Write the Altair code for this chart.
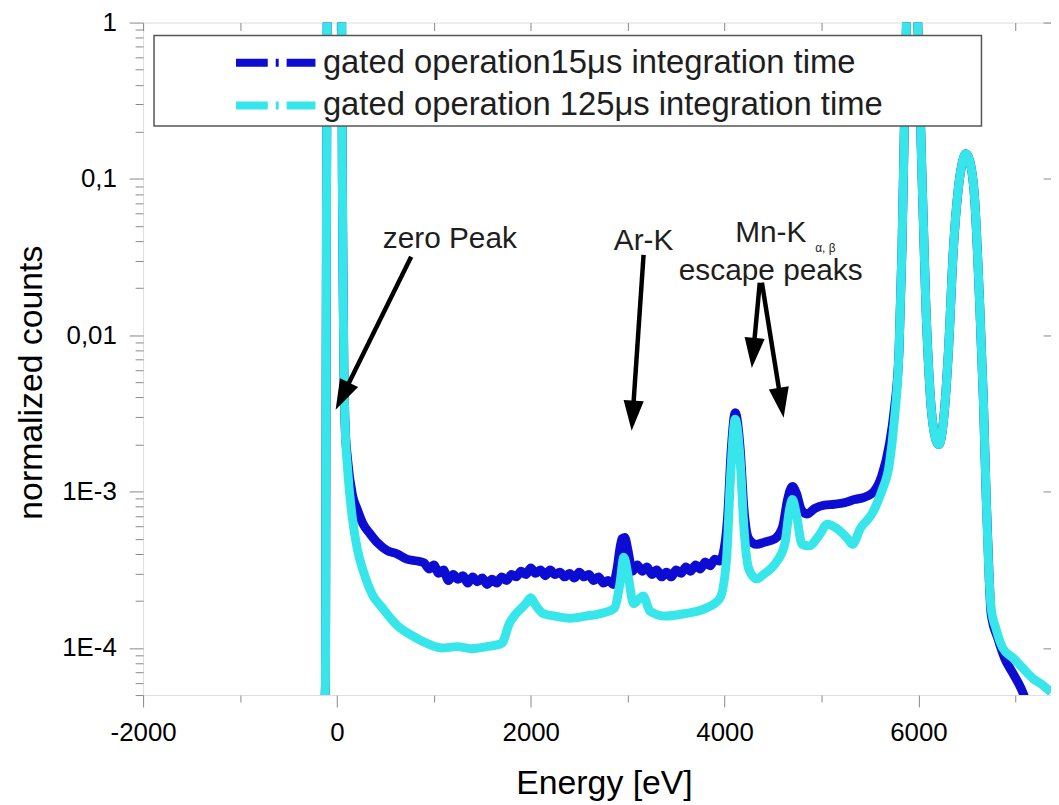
import math
import altair as alt
import pandas as pd

FONT = "Liberation Sans"
SERIES = ["gated operation15\u03bcs integration time", "gated operation 125\u03bcs integration time"]
COLORS = ["#0c0cd2", "#36e6ea"]

# ---- series values (energy in eV, normalized counts) ----
zero_e = [-140, -118, -114, -108, -100, -60, -20, 20, 48, 56, 64, 72, 85]
zero_v = [3.0e-5, 6e-5, 1e-3, 0.05, 1.5, 12, 20, 10, 1.5, 0.1, 0.02, 6e-3, 2.6e-3]

peaks_e = [5800, 5830, 5850, 5870, 5900, 5950, 5990, 6030, 6075, 6125, 6180, 6210,
           6260, 6310, 6360, 6410, 6450, 6490, 6530, 6580, 6630, 6670, 6700, 6730]
peaks_v = [8e-3, 0.035, 0.15, 0.65, 3.0, 4.0, 1.2, 0.15, 0.0167, 3.9e-3, 2.15e-3, 2.0e-3,
           2.9e-3, 8e-3, 0.035, 0.085, 0.125, 0.145, 0.13, 0.075, 0.017, 3.9e-3, 9e-4, 2.8e-4]

dark_mid_e = [110, 160, 210, 270, 340, 420, 520, 620, 720, 830, 900, 950, 1000, 1050,
              1100, 1150, 1200, 1250, 1300, 1350, 1400, 1450, 1500, 1550, 1600, 1650,
              1700, 1750, 1800, 1850, 1900, 1950, 2000, 2050, 2100, 2150, 2200, 2250,
              2300, 2350, 2400, 2450, 2500, 2550, 2600, 2650, 2700, 2750, 2800, 2850,
              2890, 2940, 2970, 3000, 3050, 3100, 3150, 3200, 3250, 3300, 3350, 3400,
              3450, 3500, 3550, 3600, 3650, 3700, 3750, 3800, 3850, 3900, 3950, 3985,
              4030, 4070, 4110, 4160, 4200, 4250, 4330, 4410, 4520, 4600, 4650, 4700,
              4740, 4790, 4850, 4930, 5030, 5130, 5240, 5340, 5440, 5540, 5620, 5700,
              5750]
dark_mid_v = [1.6e-3, 9.5e-4, 7.7e-4, 6.2e-4, 5.4e-4, 4.7e-4, 4.2e-4, 4.0e-4, 3.7e-4,
              3.6e-4, 3.5e-4, 3.2e-4, 3.4e-4, 3.0e-4, 3.15e-4, 2.7e-4, 2.95e-4, 2.75e-4,
              2.9e-4, 2.6e-4, 2.85e-4, 2.65e-4, 2.8e-4, 2.55e-4, 2.75e-4, 2.6e-4,
              2.85e-4, 2.7e-4, 2.95e-4, 2.85e-4, 3.1e-4, 2.95e-4, 3.25e-4, 3.0e-4,
              3.15e-4, 2.9e-4, 3.15e-4, 2.95e-4, 3.05e-4, 2.85e-4, 3.0e-4, 2.8e-4,
              3.05e-4, 2.85e-4, 2.95e-4, 2.7e-4, 2.85e-4, 2.6e-4, 2.7e-4, 2.55e-4,
              3.2e-4, 5.0e-4, 5.1e-4, 4.3e-4, 3.1e-4, 3.4e-4, 3.1e-4, 3.3e-4, 2.95e-4,
              3.15e-4, 2.85e-4, 3.05e-4, 2.85e-4, 3.15e-4, 3.0e-4, 3.3e-4, 3.1e-4,
              3.4e-4, 3.2e-4, 3.55e-4, 3.35e-4, 3.7e-4, 3.6e-4, 4.0e-4,
              6.7e-4, 1.9e-3, 3.2e-3, 1.9e-3, 7.7e-4, 5.0e-4, 4.6e-4, 4.75e-4,
              5.0e-4, 6.0e-4, 8.9e-4, 1.08e-3, 9.8e-4, 7.7e-4, 7.2e-4, 7.8e-4, 8.2e-4,
              8.3e-4, 8.5e-4, 8.9e-4, 9.2e-4, 1.0e-3, 1.25e-3, 2.0e-3, 3.3e-3]
dark_tail_e = [6750, 6820, 6890, 6980, 7060, 7100, 7150]
dark_tail_v = [1.66e-4, 1.15e-4, 8.6e-5, 6.8e-5, 5.5e-5, 4.8e-5, 4.0e-5]

cyan_mid_e = [110, 160, 210, 280, 365, 470, 620, 775, 930, 1085, 1240, 1390, 1545, 1700,
              1780, 1850, 1950, 2000, 2050, 2130, 2250, 2410, 2570, 2720, 2860, 2920,
              2960, 3010, 3060, 3120, 3160, 3230, 3390, 3590, 3800, 3950, 4020, 4060,
              4110, 4160, 4200, 4250, 4330, 4410, 4520, 4620, 4670, 4700, 4740, 4800,
              4870, 4980, 5060, 5160, 5270, 5320, 5400, 5520, 5620, 5700, 5750]
cyan_mid_v = [1.4e-3, 6.7e-4, 4.3e-4, 3.0e-4, 2.2e-4, 1.8e-4, 1.4e-4, 1.2e-4, 1.07e-4,
              1.0e-4, 1.02e-4, 9.9e-5, 1.02e-4, 1.07e-4, 1.44e-4, 1.66e-4, 1.92e-4,
              2.1e-4, 1.88e-4, 1.66e-4, 1.6e-4, 1.55e-4, 1.6e-4, 1.66e-4, 1.79e-4,
              2.58e-4, 3.8e-4, 2.77e-4, 1.92e-4, 2.07e-4, 2.15e-4, 1.72e-4, 1.6e-4,
              1.66e-4, 1.79e-4, 2.07e-4, 3.7e-4, 1.2e-3, 2.9e-3, 1.61e-3, 5.8e-4,
              3.2e-4, 2.77e-4, 2.98e-4, 3.45e-4, 4.6e-4, 7.7e-4, 8.9e-4, 7.2e-4, 4.6e-4,
              4.5e-4, 5.3e-4, 6.2e-4, 5.8e-4, 5.0e-4, 4.6e-4, 5.8e-4, 7.2e-4, 1.0e-3,
              1.5e-3, 2.8e-3]
cyan_tail_e = [6750, 6800, 6870, 6980, 7080, 7180, 7280, 7370]
cyan_tail_v = [1.8e-4, 1.33e-4, 1.0e-4, 8.6e-5, 7.4e-5, 6.4e-5, 5.8e-5, 5.2e-5]

# ---- axis ticks ----
X_DOMAIN = [-2000, 7368]
Y_DOMAIN = [5e-5, 1]
x_ticks = list(range(-2000, 7001, 1000))
y_major = [1e-4, 1e-3, 1e-2, 1e-1, 1]
y_ticks = [5e-5, 6e-5, 7e-5, 8e-5, 9e-5]
for k in range(-4, 0):
    y_ticks += [m * 10 ** k for m in range(1, 10)]
y_ticks += [1]

# ---- annotations (data coordinates) ----
ann_text = ["zero Peak", "Ar-K", "Mn-K", "\u03b1, \u03b2", "escape peaks"]
ann_x = [1165, 3164, 4476, 5040, 4476]
ann_y = [0.0413, 0.0402, 0.0451, 0.0362, 0.0259]
ann_size = [30, 30, 30, 12, 30]

arrow_x0 = [766, 3164, 4363, 4385]
arrow_y0 = [0.0318, 0.0327, 0.0217, 0.0217]
arrow_x1 = [-13, 3041, 4281, 4609]
arrow_y1 = [3.34e-3, 2.45e-3, 6.17e-3, 2.97e-3]

W, H = 914, 677
LOGSPAN = math.log10(Y_DOMAIN[1] / Y_DOMAIN[0])


def to_px(e, v):
    return ((e - X_DOMAIN[0]) * W / (X_DOMAIN[1] - X_DOMAIN[0]),
            -math.log10(v / Y_DOMAIN[1]) * H / LOGSPAN)


def from_px(px, py):
    return (px * (X_DOMAIN[1] - X_DOMAIN[0]) / W + X_DOMAIN[0],
            Y_DOMAIN[1] * 10 ** (-py * LOGSPAN / H))


arrow_rows = []
for x0, y0, x1, y1 in zip(arrow_x0, arrow_y0, arrow_x1, arrow_y1):
    p0 = to_px(x0, y0)
    p1 = to_px(x1, y1)
    dx, dy = p1[0] - p0[0], p1[1] - p0[1]
    L = math.hypot(dx, dy)
    ang = math.degrees(math.atan2(-dx, dy)) % 360
    sx, sy = from_px(p1[0] - dx / L * 16, p1[1] - dy / L * 16)
    arrow_rows.append({"x0": x0, "y0": y0, "xs": sx, "ys": sy, "x1": x1, "y1": y1, "ang": ang})
arrows_df = pd.DataFrame(arrow_rows)

ann_df = pd.DataFrame({"t": ann_text, "x": ann_x, "y": ann_y, "fs": ann_size})

dark_df = pd.DataFrame({
    "E": zero_e + dark_mid_e + peaks_e + dark_tail_e,
    "v": zero_v + dark_mid_v + peaks_v + dark_tail_v,
    "s": SERIES[0]})
cyan_df = pd.DataFrame({
    "E": zero_e + cyan_mid_e + peaks_e + cyan_tail_e,
    "v": zero_v + cyan_mid_v + peaks_v + cyan_tail_v,
    "s": SERIES[1]})

xscale = alt.Scale(domain=X_DOMAIN, nice=False, zero=False)
yscale = alt.Scale(type="log", domain=Y_DOMAIN, nice=False)
cscale = alt.Scale(domain=SERIES, range=COLORS)

legend = alt.Legend(
    orient="none", legendX=117, legendY=24, title=None,
    symbolType="M-4,0H4", symbolSize=400, symbolStrokeWidth=8,
    symbolDash=[32, 8, 3, 8], labelFontSize=33, labelFont=FONT, labelColor="#1e1e1e",
    labelLimit=0, rowPadding=9, padding=0, labelOffset=31)

Y_MAJOR_TEST = "abs(log(datum.value)/LN10 - round(log(datum.value)/LN10)) < 0.001"
Y_LABEL = ("datum.value > 0.95 ? '1' : abs(datum.value/0.1 - 1) < 1e-6 ? '0,1' : "
           "abs(datum.value/0.01 - 1) < 1e-6 ? '0,01' : abs(datum.value/0.001 - 1) < 1e-6 ? '1E-3' : "
           "abs(datum.value/0.0001 - 1) < 1e-6 ? '1E-4' : ''")
X_MAJOR_TEST = "datum.value % 2000 == 0"

x_bottom = alt.Axis(
    orient="bottom", values=x_ticks, domain=False, grid=False,
    tickSize={"condition": {"test": X_MAJOR_TEST, "value": 12}, "value": 7},
    labelExpr="datum.value % 2000 == 0 ? toString(datum.value) : ''",
    labelFlush=False, labelOverlap=False, labelPadding=13,
    labelFontSize=26, title="Energy [eV]", titleFontSize=34,
    titleX=464, titleY=99, titleBaseline="alphabetic", titleFontWeight="normal")
y_left = alt.Axis(
    orient="left", values=y_ticks, domain=False, grid=False,
    tickSize={"condition": {"test": Y_MAJOR_TEST, "value": 14}, "value": 8},
    labelExpr=Y_LABEL, labelOverlap=False, labelFlush=False, labelPadding=13,
    labelFontSize=26, title="normalized counts", titleFontSize=34,
    titleX=-112, titleY=362, titleAngle=270, titleBaseline="middle",
    titleFontWeight="normal")
x_top = alt.Axis(orient="top", values=x_ticks, domain=False, grid=False, labels=False,
                 tickSize=8, offset=-8, title=None)
y_right = alt.Axis(orient="right", values=y_major, domain=False, grid=False, labels=False,
                   tickSize=8, offset=-8, title=None)

dark = alt.Chart(dark_df).mark_line(clip=True, strokeWidth=9, interpolate="monotone").encode(
    x=alt.X("E:Q", scale=xscale, axis=x_bottom),
    y=alt.Y("v:Q", scale=yscale, axis=y_left),
    color=alt.Color("s:N", scale=cscale, legend=legend),
)
cyan = alt.Chart(cyan_df).mark_line(clip=True, strokeWidth=9, interpolate="monotone").encode(
    x=alt.X("E:Q", scale=xscale, axis=x_top),
    y=alt.Y("v:Q", scale=yscale, axis=y_right),
    color=alt.Color("s:N", scale=cscale, legend=legend),
)
frame = alt.Chart(alt.Data(values=[{}])).mark_rect(
    fill="white", stroke="#555555", strokeWidth=1.5).encode(
    x=alt.value(11), x2=alt.value(844), y=alt.value(13), y2=alt.value(104))

shafts = alt.Chart(arrows_df).mark_rule(color="black", strokeWidth=4.5).encode(
    x=alt.X("x0:Q", scale=xscale, axis=None), x2="xs:Q",
    y=alt.Y("y0:Q", scale=yscale, axis=None), y2="ys:Q")
heads = alt.Chart(arrows_df).mark_point(
    shape="M0,0L-0.7,-2.1L0.7,-2.1Z", filled=True, color="black", opacity=1,
    size=841).encode(
    x=alt.X("x1:Q", scale=xscale, axis=None),
    y=alt.Y("y1:Q", scale=yscale, axis=None),
    angle=alt.Angle("ang:Q", scale=None))
texts = alt.Chart(ann_df).mark_text(font=FONT, color="#1e1e1e", baseline="middle",
                                    align="center").encode(
    x=alt.X("x:Q", scale=xscale, axis=None),
    y=alt.Y("y:Q", scale=yscale, axis=None),
    text="t:N",
    size=alt.Size("fs:Q", scale=None))

chart = alt.layer(dark, cyan, frame, shafts, heads, texts).resolve_axis(
    x="independent", y="independent"
).properties(
    width=W, height=H,
    padding={"left": 136, "top": 12, "right": 0, "bottom": 108},
    autosize=alt.AutoSizeParams(type="none"),
).configure_view(stroke="black", strokeWidth=2).configure_axis(
    labelFont=FONT, titleFont=FONT, labelColor="#1e1e1e", titleColor="#1e1e1e",
    tickColor="black", tickWidth=1.5,
).configure(background="white")

chart.save("out.html", embed_options={"renderer": "svg", "actions": False})
